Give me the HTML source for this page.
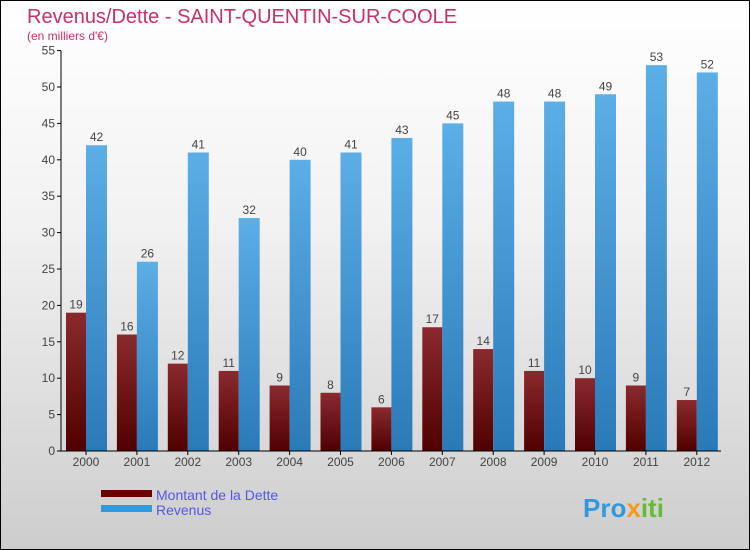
<!DOCTYPE html>
<html><head><meta charset="utf-8"><style>
body{margin:0}
#c{width:750px;height:550px;position:relative;box-sizing:border-box;border:1px solid #000;background:linear-gradient(#fff,#f2f2f2 40%,#cdcdcd);font-family:"Liberation Sans",sans-serif;overflow:hidden}
</style></head><body>
<div id="c">
<svg width="750" height="550" style="position:absolute;left:0;top:0" id="svg">
<defs>
<linearGradient id="gd" x1="0" y1="0" x2="0" y2="1"><stop offset="0" stop-color="#8a2a2e"/><stop offset="1" stop-color="#500000"/></linearGradient>
<linearGradient id="gr" x1="0" y1="0" x2="0" y2="1"><stop offset="0" stop-color="#5caee6"/><stop offset="1" stop-color="#2a7ab8"/></linearGradient>
</defs>
<text x="26" y="22" font-size="20" fill="#c8306a">Revenus/Dette - SAINT-QUENTIN-SUR-COOLE</text>
<text x="26" y="39" font-size="12" fill="#c8306a">(en milliers d'€)</text>
<g id="plot"></g>
<rect x="100" y="489" width="51" height="7" fill="#6a0000"/>
<text x="155" y="499" font-size="14" fill="#5555ee">Montant de la Dette</text>
<rect x="100" y="504" width="51" height="7" fill="#3399dd"/>
<text x="155" y="514" font-size="14" fill="#5555ee">Revenus</text>
<text x="582" y="516" font-size="26" font-weight="bold" fill="#3399dd">Pro<tspan fill="#f39a1e">x</tspan><tspan fill="#66bb33">iti</tspan></text>
</svg>
</div>
<script>
const years=["2000","2001","2002","2003","2004","2005","2006","2007","2008","2009","2010","2011","2012"];
const dette=[19,16,12,11,9,8,6,17,14,11,10,9,7];
const revenus=[42,26,41,32,40,41,43,45,48,48,49,53,52];
const yTicks=[0,5,10,15,20,25,30,35,40,45,50,55];
const NS="http://www.w3.org/2000/svg";
const g=document.getElementById('plot');
const y=v=>450-v*7.28;
const xc=i=>85+i*50.9;
function mk(t,a){const e=document.createElementNS(NS,t);for(const k in a)e.setAttribute(k,a[k]);g.appendChild(e);return e;}
yTicks.forEach(v=>{
 const l=mk('line',{x1:56,x2:60,y1:y(v),y2:y(v),stroke:'#000'});
 
 
 const t=mk('text',{x:54,y:y(v)+4,'font-size':12,'text-anchor':'end',fill:'#444'});t.textContent=v;
 
 
});
years.forEach((yr,i)=>{
 const c=xc(i);
 const b1=mk('rect',{x:c-20,y:y(dette[i]),width:20,height:450-y(dette[i]),fill:'url(#gd)'});
 
 
 const b2=mk('rect',{x:c,y:y(revenus[i]),width:21,height:450-y(revenus[i]),fill:'url(#gr)'});
 
 
 const v1=mk('text',{x:c-10,y:y(dette[i])-4,'font-size':12,'text-anchor':'middle',fill:'#444'});v1.textContent=dette[i];
 
 
 const v2=mk('text',{x:c+10.5,y:y(revenus[i])-4,'font-size':12,'text-anchor':'middle',fill:'#444'});v2.textContent=revenus[i];
 
 
 const tk=mk('line',{x1:c,x2:c,y1:450,y2:454,stroke:'#000'});
 
 
 const t=mk('text',{x:c,y:465,'font-size':12,'text-anchor':'middle',fill:'#444'});t.textContent=yr;
 
 
});
const ya=mk('line',{x1:60,x2:60,y1:y(55),y2:450,stroke:'#000'});


const xa=mk('line',{x1:60,x2:720,y1:450,y2:450,stroke:'#000'});


</script>
</body></html>
